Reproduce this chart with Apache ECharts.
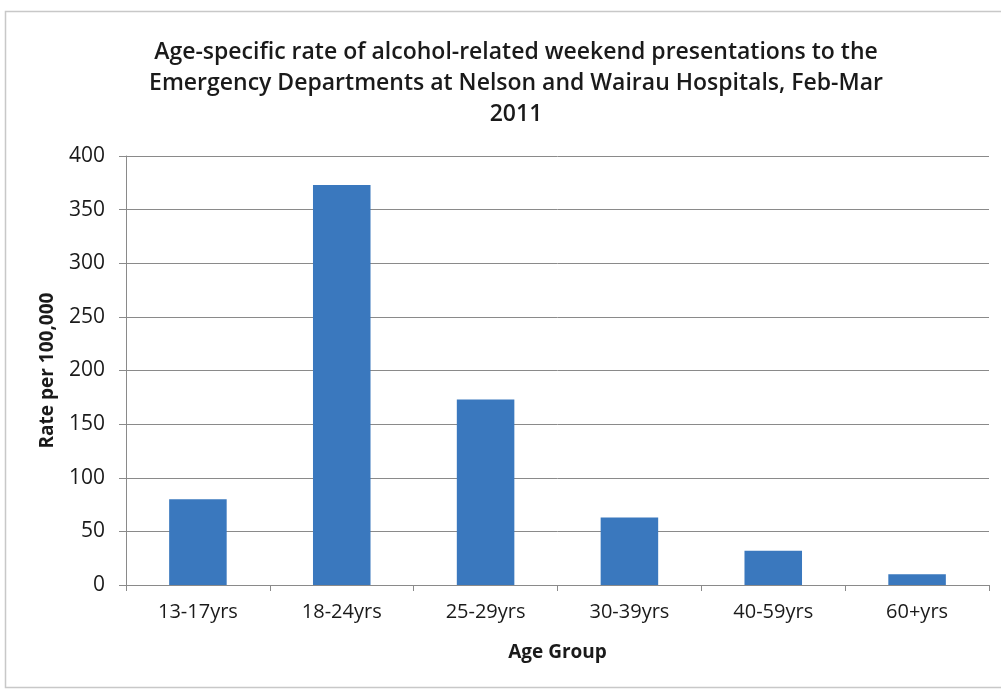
<!DOCTYPE html>
<html>
<head>
<meta charset="utf-8">
<script src="https://cdn.jsdelivr.net/npm/echarts@6/dist/echarts.min.js"></script>
<style>
  html, body { margin: 0; padding: 0; background: #ffffff; }
  #chart { width: 1001px; height: 689px; }
</style>
</head>
<body>
<div id="chart"></div>
<script>
// Age groups and their weekend presentation rates (per 100,000)
const ageGroups = ['13-17yrs', '18-24yrs', '25-29yrs', '30-39yrs', '40-59yrs', '60+yrs'];
const ratePer100k = [80, 373, 173, 63, 32, 10];
const yTicks = [0, 50, 100, 150, 200, 250, 300, 350, 400];

const titleLines = [
  'Age-specific rate of alcohol-related weekend presentations to the',
  'Emergency Departments at Nelson and Wairau Hospitals, Feb-Mar',
  '2011'
];

const FONT = '"Open Sans", Lato, sans-serif';
const chart = echarts.init(document.getElementById('chart'), null, { renderer: 'canvas' });

chart.setOption({
  backgroundColor: '#ffffff',
  animation: false,
  title: {
    text: titleLines.join('\n'),
    left: 511,
    textAlign: 'center',
    top: 32,
    textStyle: {
      fontFamily: FONT,
      fontSize: 23,
      fontWeight: 600,
      color: '#1a1a1a',
      lineHeight: 31
    }
  },
  graphic: [{
    type: 'rect',
    shape: { x: 5.5, y: 11.5, width: 1001, height: 676 },
    style: { fill: 'none', stroke: '#c8c8c8', lineWidth: 1.5 },
    silent: true
  }],
  grid: { left: 126, right: 12, top: 156, bottom: 104, containLabel: false },
  xAxis: {
    type: 'category',
    data: ageGroups,
    name: 'Age Group',
    nameLocation: 'middle',
    nameGap: 58,
    nameTextStyle: { fontFamily: FONT, fontSize: 19, fontWeight: 'bold', color: '#1a1a1a' },
    axisLine: { lineStyle: { color: '#8a8a8a', width: 1 } },
    axisTick: { show: true, alignWithLabel: false, length: 6, lineStyle: { color: '#8a8a8a' } },
    axisLabel: { fontFamily: FONT, fontSize: 20, color: '#1a1a1a', margin: 17 }
  },
  yAxis: {
    type: 'value',
    min: yTicks[0],
    max: yTicks[yTicks.length - 1],
    interval: 50,
    name: 'Rate per 100,000',
    nameLocation: 'middle',
    nameGap: 69,
    nameRotate: 90,
    nameTextStyle: { fontFamily: FONT, fontSize: 19, fontWeight: 'bold', color: '#1a1a1a' },
    axisLine: { show: true, lineStyle: { color: '#8a8a8a', width: 1 } },
    axisTick: { show: true, length: 7, lineStyle: { color: '#8a8a8a' } },
    axisLabel: { fontFamily: FONT, fontSize: 21, color: '#1a1a1a', margin: 21 },
    splitLine: { show: true, lineStyle: { color: '#8a8a8a', width: 1 } }
  },
  series: [{
    type: 'bar',
    data: ratePer100k,
    barWidth: '40%',
    itemStyle: { color: '#3a78be' }
  }]
});
</script>
</body>
</html>
